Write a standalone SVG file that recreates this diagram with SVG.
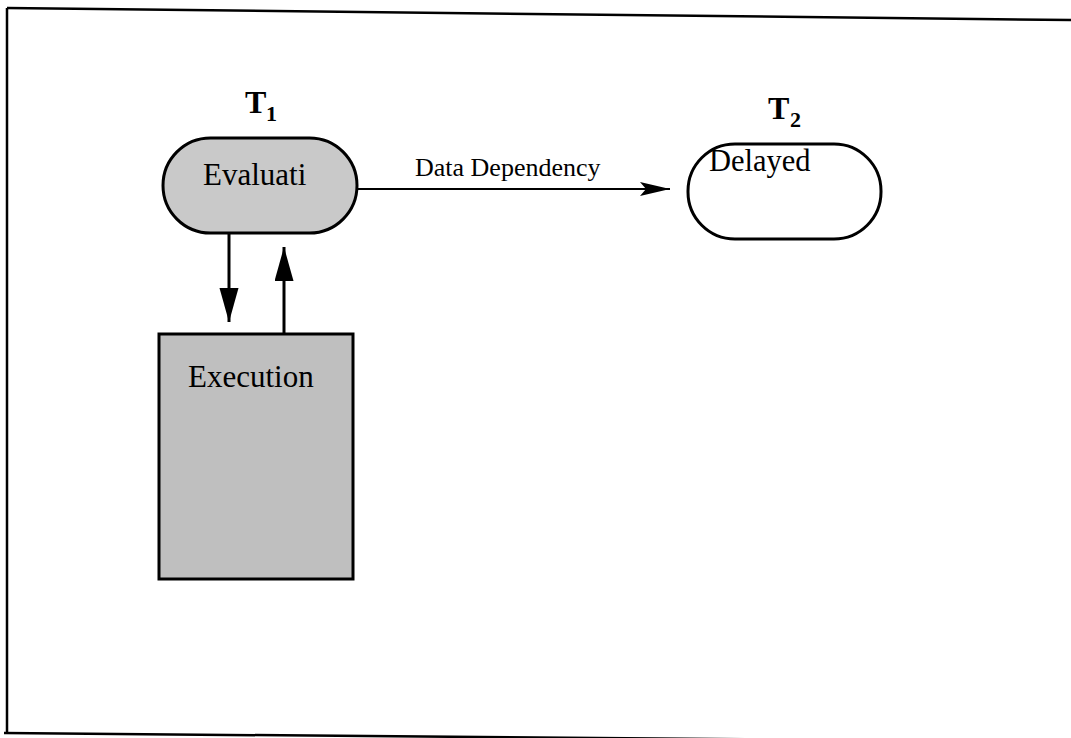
<svg xmlns="http://www.w3.org/2000/svg" width="1071" height="738" viewBox="0 0 1071 738">
  <style>
    .frame { fill: none; stroke: #000; stroke-width: 2.5; }
    .node { stroke: #000; stroke-width: 3; }
    .shaded-light { fill: #c9c9c9; }
    .shaded-dark { fill: #bfbfbf; }
    .hollow { fill: #fff; }
    .label { font-family: "Liberation Serif", "Times New Roman", serif; fill: #000; }
    .title { font-family: "Liberation Serif", "Times New Roman", serif; font-weight: bold; fill: #000; }
    .flow { stroke: #000; stroke-width: 3; fill: none; }
    .dep { stroke: #000; stroke-width: 2.2; fill: none; }
  </style>
  <defs>
    <marker id="solidHead" markerUnits="userSpaceOnUse" markerWidth="36" markerHeight="20" refX="34" refY="9.5" orient="auto">
      <path d="M0,0 L34,9.5 L0,19 Z" fill="#000"/>
    </marker>
    <marker id="barbHead" markerUnits="userSpaceOnUse" markerWidth="32" markerHeight="16" refX="30" refY="7" orient="auto">
      <path d="M0,0 L30,7 L0,14 L6,7 Z" fill="#000"/>
    </marker>
  </defs>

  <rect width="1071" height="738" fill="#fff"/>

  <!-- page border (slightly skewed) -->
  <g id="border">
    <path class="frame" d="M7,8 L1071,20"/>
    <path class="frame" d="M7,8 L7,733"/>
    <path class="frame" d="M4,733 L1071,742"/>
  </g>

  <!-- task labels -->
  <g id="t1-label">
    <text class="title" x="245" y="113" font-size="32">T</text>
    <text class="title" x="266" y="121" font-size="22">1</text>
  </g>
  <g id="t2-label">
    <text class="title" x="768" y="119" font-size="32">T</text>
    <text class="title" x="790" y="127" font-size="22">2</text>
  </g>

  <g id="evaluation">
    <rect class="node shaded-light" x="163" y="138" width="194" height="95" rx="47.5" ry="47.5"/>
    <text class="label" x="203" y="185" font-size="31">Evaluati</text>
  </g>

  <g id="delayed">
    <rect class="node hollow" x="688" y="144" width="193" height="95" rx="47" ry="47"/>
    <text class="label" x="709" y="171" font-size="30.5">Delayed</text>
  </g>

  <g id="execution">
    <rect class="node shaded-dark" x="159" y="334" width="194" height="245"/>
    <text class="label" x="188" y="387" font-size="31">Execution</text>
  </g>

  <g id="connectors">
    <line class="flow" x1="229" y1="233" x2="229" y2="322" marker-end="url(#solidHead)"/>
    <line class="flow" x1="284" y1="334" x2="284" y2="247" marker-end="url(#solidHead)"/>
    <line class="dep" x1="357" y1="189" x2="670" y2="189" marker-end="url(#barbHead)"/>
    <text class="label" x="415" y="176" font-size="26">Data Dependency</text>
  </g>
</svg>
